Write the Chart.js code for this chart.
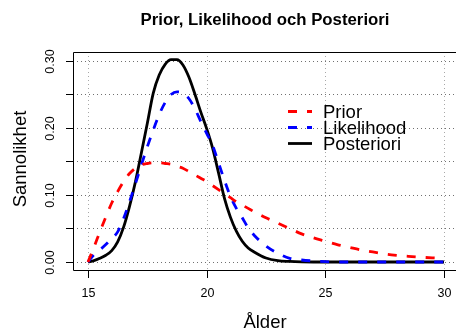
<!DOCTYPE html>
<html>
<head>
<meta charset="utf-8">
<script src="https://cdn.jsdelivr.net/npm/chart.js@4.4.1/dist/chart.umd.min.js"></script>
<style>
  html, body { margin: 0; padding: 0; background: #fff; }
  canvas { display: block; }
</style>
</head>
<body>
<canvas id="chart" width="456" height="329"></canvas>
<script>
// Ålder (x): tätare steg kring topparna, glesare i svansen
const ages = [15, 15.25, 15.5, 15.75, 16, 16.25, 16.5, 16.75, 17, 17.25, 17.5, 17.75, 18, 18.25, 18.5, 18.75,
              19, 19.25, 19.5, 19.75, 20, 20.25, 20.5, 20.75, 21, 21.25, 21.5, 21.75, 22,
              22.5, 23, 23.5, 24, 24.5, 25, 25.5, 26, 26.5, 27, 27.5, 28, 28.5, 29, 29.5, 30];
const prior = [0, 0.022, 0.045, 0.067, 0.088, 0.105, 0.12, 0.132, 0.14, 0.145, 0.147, 0.148, 0.148, 0.147, 0.146, 0.143,
               0.14, 0.135, 0.13, 0.125, 0.12, 0.114, 0.108, 0.102, 0.096, 0.09, 0.085, 0.08, 0.075,
               0.066, 0.058, 0.050, 0.042, 0.036, 0.031, 0.026, 0.022, 0.018, 0.015, 0.012, 0.010, 0.0085, 0.0072, 0.0062, 0.0055];
const likelihood = [0, 0.011, 0.018, 0.026, 0.035, 0.045, 0.065, 0.09, 0.117, 0.145, 0.172, 0.197, 0.22, 0.238, 0.25, 0.254,
                    0.252, 0.244, 0.229, 0.21, 0.192, 0.174, 0.148, 0.122, 0.098, 0.08, 0.066, 0.051, 0.04,
                    0.024, 0.013, 0.0055, 0.003, 0.0015, 0.0005, 0, 0, 0, 0, 0, 0, 0, 0, 0, 0];
const posteriori = [0, 0.002, 0.0055, 0.01, 0.017, 0.03, 0.052, 0.083, 0.12, 0.163, 0.207, 0.252, 0.279, 0.295, 0.302, 0.302,
                    0.294, 0.276, 0.251, 0.224, 0.199, 0.17, 0.133, 0.095, 0.067, 0.046, 0.031, 0.021, 0.015,
                    0.006, 0.002, 0.0008, 0.0002, 0, 0, 0, 0, 0, 0, 0, 0, 0, 0, 0, 0];

const seriesNames = ['Prior', 'Likelihood', 'Posteriori'];
const xTicks = [15, 20, 25, 30];
const yTicks = [0, 0.05, 0.10, 0.15, 0.20, 0.25, 0.30];
const yTickLabels = ['0.00', '', '0.10', '', '0.20', '', '0.30'];

const FONT = '"Liberation Sans", Arial, Helvetica, sans-serif';

const toPoints = ys => ages.map((a, i) => ({ x: a, y: ys[i] }));

// Axlar, rutnät, titel och legend ritas för hand i R-stil
const rStyle = {
    id: 'rStyle',
    beforeDatasetsDraw(chart) {
        const { ctx, chartArea: a, scales: { x, y } } = chart;
        ctx.save();
        ctx.lineWidth = 1;
        ctx.setLineDash([1, 3]);
        ctx.strokeStyle = '#a8a8a8';
        xTicks.forEach(v => {
            const px = Math.round(x.getPixelForValue(v)) + 0.5;
            ctx.beginPath(); ctx.moveTo(px, a.top); ctx.lineTo(px, a.bottom); ctx.stroke();
        });
        ctx.strokeStyle = '#707070';
        yTicks.forEach(v => {
            const py = Math.round(y.getPixelForValue(v)) + 0.5;
            ctx.beginPath(); ctx.moveTo(a.left, py); ctx.lineTo(a.right, py); ctx.stroke();
        });
        ctx.restore();
    },
    afterDraw(chart) {
        const { ctx, chartArea: a, scales: { x, y } } = chart;
        ctx.save();
        ctx.strokeStyle = '#000';
        ctx.fillStyle = '#000';
        ctx.lineWidth = 1;

        // ram (höger kant hamnar utanför bilden)
        ctx.beginPath();
        ctx.moveTo(a.right, a.top + 0.5);
        ctx.lineTo(a.left + 0.5, a.top + 0.5);
        ctx.lineTo(a.left + 0.5, a.bottom + 0.5);
        ctx.lineTo(a.right, a.bottom + 0.5);
        ctx.stroke();

        // x-axel
        ctx.font = '12.5px ' + FONT;
        ctx.textAlign = 'center';
        ctx.textBaseline = 'middle';
        xTicks.forEach(v => {
            const px = Math.round(x.getPixelForValue(v)) + 0.5;
            ctx.beginPath(); ctx.moveTo(px, a.bottom); ctx.lineTo(px, a.bottom + 8); ctx.stroke();
            ctx.fillText(String(v), px, 294);
        });

        // y-axel, etiketterna roterade
        yTicks.forEach((v, i) => {
            const py = Math.round(y.getPixelForValue(v)) + 0.5;
            ctx.beginPath(); ctx.moveTo(a.left, py); ctx.lineTo(a.left - 7, py); ctx.stroke();
            if (yTickLabels[i]) {
                ctx.save();
                ctx.translate(51, py);
                ctx.rotate(-Math.PI / 2);
                ctx.fillText(yTickLabels[i], 0, 0);
                ctx.restore();
            }
        });

        // axeltitlar
        ctx.font = '18.5px ' + FONT;
        ctx.textBaseline = 'alphabetic';
        ctx.fillText('Ålder', 265, 328);
        ctx.save();
        ctx.translate(26, 159);
        ctx.rotate(-Math.PI / 2);
        ctx.fillText('Sannolikhet', 0, 0);
        ctx.restore();

        // huvudtitel
        ctx.font = 'bold 16.8px ' + FONT;
        ctx.textBaseline = 'middle';
        ctx.fillText('Prior, Likelihood och Posteriori', 265, 20);

        // legend utan ram
        ctx.font = '18.5px ' + FONT;
        ctx.textAlign = 'left';
        chart.data.datasets.forEach((ds, i) => {
            const ly = 111.5 + 16 * i;
            ctx.save();
            ctx.strokeStyle = ds.borderColor;
            ctx.lineWidth = ds.borderWidth;
            ctx.setLineDash(ds.borderDash || []);
            ctx.beginPath(); ctx.moveTo(288, ly); ctx.lineTo(312, ly); ctx.stroke();
            ctx.restore();
            ctx.fillText(ds.label, 323, ly + 1);
        });
        ctx.restore();
    }
};

new Chart(document.getElementById('chart'), {
    type: 'line',
    data: {
        datasets: [
            { label: seriesNames[0], data: toPoints(prior), borderColor: '#ff0000', borderDash: [9, 10] },
            { label: seriesNames[1], data: toPoints(likelihood), borderColor: '#0000ff', borderDash: [9, 10] },
            { label: seriesNames[2], data: toPoints(posteriori), borderColor: '#000000' }
        ].map(ds => Object.assign({
            borderWidth: 2.8,
            pointRadius: 0,
            fill: false,
            cubicInterpolationMode: 'monotone',
            borderCapStyle: 'butt'
        }, ds))
    },
    options: {
        responsive: false,
        animation: false,
        devicePixelRatio: 1,
        layout: { padding: { left: 73, top: 52, right: 0, bottom: 59 } },
        plugins: {
            legend: { display: false },
            title: { display: false },
            tooltip: { enabled: false }
        },
        scales: {
            x: { type: 'linear', min: 14.368, max: 30.506, display: false },
            y: { type: 'linear', min: -0.01194, max: 0.3134, display: false }
        }
    },
    plugins: [rStyle]
});
</script>
</body>
</html>
